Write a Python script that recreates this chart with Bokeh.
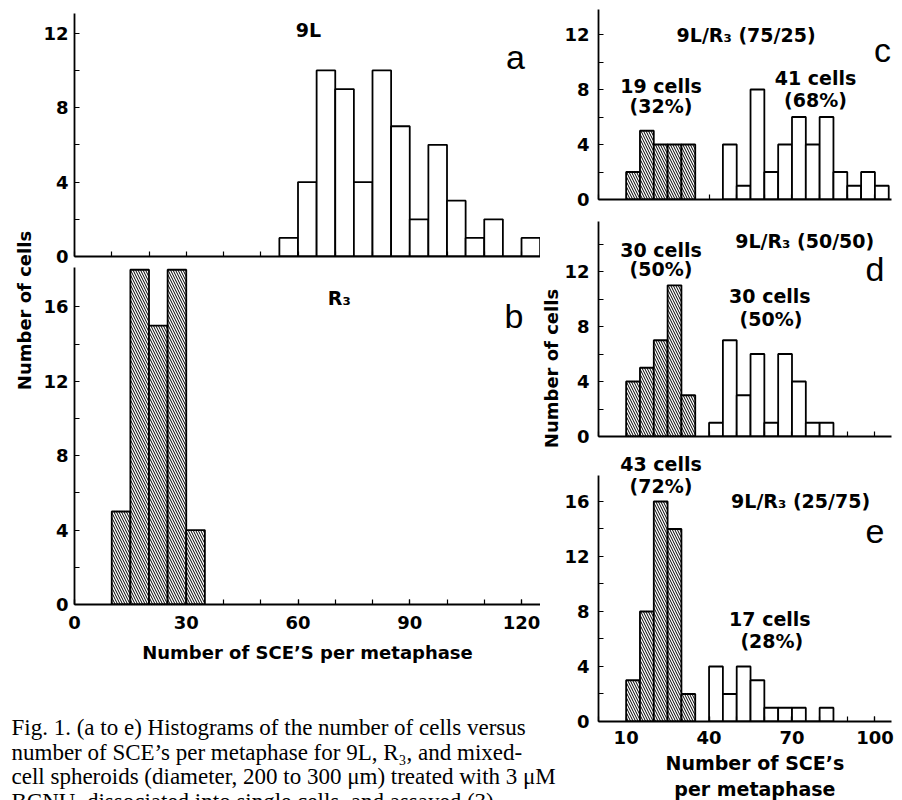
import math
from bokeh.plotting import figure
from bokeh.layouts import row, column
from bokeh.models import Range1d, FixedTicker, Label, ColumnDataSource
from bokeh.embed import file_html
from bokeh.resources import INLINE

BIN_WIDTH = 5

# Panel a: 9L
a_bins = [55, 60, 65, 70, 75, 80, 85, 90, 95, 100, 105, 110, 115, 120]
a_counts = [1, 4, 10, 9, 4, 10, 7, 2, 6, 3, 1, 2, 0, 1]
# Panel b: R3
b_bins = [10, 15, 20, 25, 30]
b_counts = [5, 18, 15, 18, 4]
# Panel c: 9L/R3 (75/25)
c_r3_bins = [10, 15, 20, 25, 30]
c_r3_counts = [2, 5, 4, 4, 4]
c_9l_bins = [45, 50, 55, 60, 65, 70, 75, 80, 85, 90, 95, 100]
c_9l_counts = [4, 1, 8, 2, 4, 6, 4, 6, 2, 1, 2, 1]
# Panel d: 9L/R3 (50/50)
d_r3_bins = [10, 15, 20, 25, 30]
d_r3_counts = [4, 5, 7, 11, 3]
d_9l_bins = [40, 45, 50, 55, 60, 65, 70, 75, 80]
d_9l_counts = [1, 7, 3, 6, 1, 6, 4, 1, 1]
# Panel e: 9L/R3 (25/75)
e_r3_bins = [10, 15, 20, 25, 30]
e_r3_counts = [3, 8, 16, 14, 2]
e_9l_bins = [40, 45, 50, 55, 60, 65, 70, 75, 80]
e_9l_counts = [4, 2, 4, 3, 1, 1, 1, 0, 1]

left_x_ticks = [0, 30, 60, 90, 120]
left_x_minor = [0, 10, 20, 30, 40, 50, 60, 70, 80, 90, 100, 110, 120]
right_x_ticks = [10, 40, 70, 100]
right_x_minor = [0, 10, 20, 30, 40, 50, 60, 70, 80, 90, 100]
y_ticks_12 = [0, 4, 8, 12]
y_ticks_16 = [0, 4, 8, 12, 16]
y_minor = [2, 6, 10, 14]

SANS = "DejaVu Sans"
LETTER = "Liberation Sans"
SERIF = "Liberation Serif"


def blank(width, height):
    p = figure(width=width, height=height, x_range=Range1d(0, width), y_range=Range1d(0, height),
               x_axis_location=None, y_axis_location=None, min_border=0,
               output_backend="svg", toolbar_location=None)
    p.grid.visible = False
    p.outline_line_color = None
    p.background_fill_color = "white"
    p.border_fill_color = "white"
    return p


def panel(width, height, x_end, y_end, bl, br, bt, bb, y_major, x_major, x_minor, xlabels):
    p = figure(width=width, height=height, x_range=Range1d(0, x_end), y_range=Range1d(0, y_end),
               output_backend="svg", toolbar_location=None,
               min_border_left=bl, min_border_right=br, min_border_top=bt, min_border_bottom=bb)
    p.grid.visible = False
    p.outline_line_color = None
    p.background_fill_color = "white"
    p.border_fill_color = "white"
    # panels without x tick labels only carry the (unlabelled) tick marks
    p.xaxis.ticker = FixedTicker(ticks=x_major if xlabels else [], minor_ticks=x_minor)
    p.yaxis.ticker = FixedTicker(ticks=y_major, minor_ticks=y_minor)
    for ax in (p.xaxis[0], p.yaxis[0]):
        ax.axis_line_width = 1.8
        ax.axis_line_color = "black"
        ax.major_tick_in = 5
        ax.major_tick_out = 0
        ax.minor_tick_in = 5
        ax.minor_tick_out = 0
        ax.major_tick_line_width = 1.2
        ax.minor_tick_line_width = 1.2
        ax.major_tick_line_color = "black"
        ax.minor_tick_line_color = "black"
        ax.major_label_text_font = SANS
        ax.major_label_text_font_style = "bold"
        ax.major_label_text_font_size = "18px"
        ax.major_label_text_color = "black"
    if not xlabels:
        p.xaxis.major_label_standoff = 0
    return p


def bars(p, bins, counts, hatched):
    src = ColumnDataSource(dict(left=bins, right=[b + BIN_WIDTH for b in bins], top=counts))
    kw = dict(fill_color="white", line_color="black", line_width=1.8)
    if hatched:
        kw.update(hatch_pattern="\\", hatch_color="black", hatch_scale=5, hatch_weight=1)
    p.quad(left="left", right="right", top="top", bottom=0, source=src, **kw)


def txt(p, x, y, s, size="19px", font=SANS, style="bold", align="center", baseline="middle", angle=0):
    p.add_layout(Label(x=x, y=y, text=s, text_font=font, text_font_size=size, text_font_style=style,
                       text_align=align, text_baseline=baseline, text_color="black", angle=angle))


# ---------------- left block ----------------
fa = panel(502, 264, 125.1, 13.06, 36, 0, 13, 8, y_ticks_12, left_x_ticks, left_x_minor, False)
fa.yaxis.major_label_standoff = 6
bars(fa, a_bins, a_counts, False)
txt(fa, 62.8, 12.2, "9L")
txt(fa, 118.4, 10.7, "a", size="34px", font=LETTER, style="normal")

fb = panel(502, 408, 125.1, 18.12, 36, 0, 3, 68, y_ticks_16, left_x_ticks, left_x_minor, True)
fb.yaxis.major_label_standoff = 6
fb.xaxis.major_label_standoff = 11
fb.xaxis.axis_label = "Number of SCE\u2019S per metaphase"
fb.xaxis.axis_label_text_font = SANS
fb.xaxis.axis_label_text_font_style = "bold"
fb.xaxis.axis_label_text_font_size = "18px"
fb.xaxis.axis_label_text_color = "black"
fb.xaxis.axis_label_standoff = 10
bars(fb, b_bins, b_counts, True)
txt(fb, 68.0, 16.5, "R\u2083", align="left")
txt(fb, 118.0, 15.5, "b", size="34px", font=LETTER, style="normal")

tL = blank(38, 672)
txt(tL, 24, 672 - 310, "Number of cells", size="18px", angle=math.pi / 2)

# y title of the right-hand panels, kept in the upper band so the caption can run beneath it
tR = blank(21, 672)
txt(tR, 10.5, 672 - 368, "Number of cells", size="18px", angle=math.pi / 2)

cap = blank(561, 128)
caption_lines = [
    "Fig. 1. (a to e) Histograms of the number of cells versus",
    "number of SCE\u2019s per metaphase for 9L, R\u2083, and mixed-",
    "cell spheroids (diameter, 200 to 300 \u03bcm) treated with 3 \u03bcM",
    "BCNU, dissociated into single cells, and assayed (3).",
]
for i, line in enumerate(caption_lines):
    txt(cap, 11, 73 - 24.5 * i, line, size="23px", font=SERIF, style="normal",
        align="left", baseline="alphabetic")

left_col = column(row(tL, column(fa, fb), tR), cap)

# ---------------- right column ----------------
fc = panel(341, 210, 106, 13.82, 34, 11, 9, 11, y_ticks_12, right_x_ticks, right_x_minor, False)
fc.yaxis.major_label_standoff = 9
bars(fc, c_r3_bins, c_r3_counts, True)
bars(fc, c_9l_bins, c_9l_counts, False)
txt(fc, 53.4, 11.95, "9L/R\u2083 (75/25)")
txt(fc, 102.7, 10.9, "c", size="34px", font=LETTER, style="normal")
txt(fc, 22.6, 8.24, "19 cells")
txt(fc, 22.6, 6.79, "(32%)")
txt(fc, 78.5, 8.82, "41 cells")
txt(fc, 78.5, 7.22, "(68%)")

fd = panel(341, 236, 106, 15.64, 34, 11, 11, 10, y_ticks_12, right_x_ticks, right_x_minor, False)
fd.yaxis.major_label_standoff = 9
bars(fd, d_r3_bins, d_r3_counts, True)
bars(fd, d_9l_bins, d_9l_counts, False)
txt(fd, 22.6, 13.6, "30 cells")
txt(fd, 22.6, 12.15, "(50%)")
txt(fd, 74.6, 14.25, "9L/R\u2083 (50/50)")
txt(fd, 100.0, 12.2, "d", size="34px", font=LETTER, style="normal")
txt(fd, 62.0, 10.25, "30 cells")
txt(fd, 62.4, 8.58, "(50%)")

# frame of e reaches above the axis top so the "43 cells" note can sit there
fe = panel(341, 306, 106, 19.78, 34, 11, 3, 31, y_ticks_16, right_x_ticks, right_x_minor, True)
fe.yaxis.bounds = (0, 17.9)
fe.yaxis.major_label_standoff = 9
fe.xaxis.major_label_standoff = 9
bars(fe, e_r3_bins, e_r3_counts, True)
bars(fe, e_9l_bins, e_9l_counts, False)
txt(fe, 22.6, 18.7, "43 cells")
txt(fe, 22.6, 17.1, "(72%)")
txt(fe, 73.1, 16.07, "9L/R\u2083 (25/75)")
txt(fe, 100.0, 13.8, "e", size="34px", font=LETTER, style="normal")
txt(fe, 62.0, 7.49, "17 cells")
txt(fe, 62.7, 5.89, "(28%)")

fe_title = blank(341, 48)
txt(fe_title, 34 + 148, 48 - 10, "Number of SCE\u2019s")
txt(fe_title, 34 + 148, 48 - 36, "per metaphase")

right_col = column(fc, fd, fe, fe_title)

layout = row(left_col, right_col)

open("out.html", "w").write(file_html(layout, INLINE))
